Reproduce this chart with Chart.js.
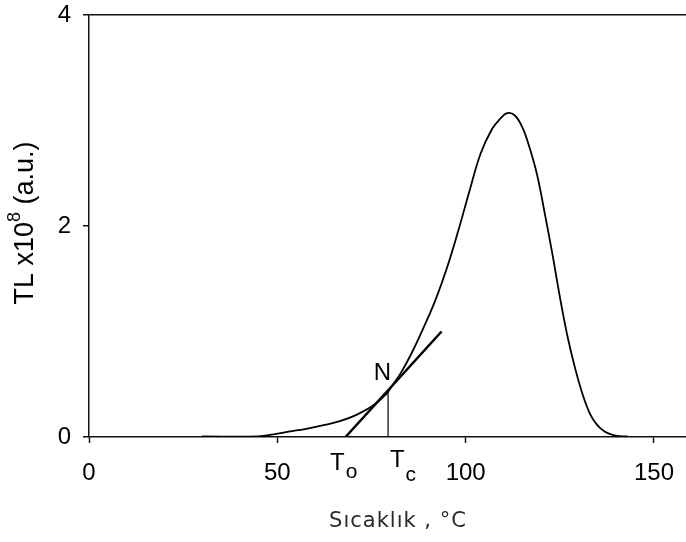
<!DOCTYPE html>
<html>
<head>
<meta charset="utf-8">
<script src="https://cdn.jsdelivr.net/npm/chart.js@4.4.1/dist/chart.umd.min.js"></script>
<style>
  html, body { margin: 0; padding: 0; background: #fff; overflow: hidden; }
  #wrap { width: 686px; height: 542px; }
</style>
</head>
<body>
<div id="wrap"><canvas id="glowChart"></canvas></div>
<script>
// glow curve
const temperature = [30, 45, 49, 53, 58, 62, 66.6, 71, 75.5, 79, 80, 83, 86, 89, 92, 95, 98, 101, 104, 107, 109, 111, 113, 115, 117, 119, 121, 123, 125, 127, 129, 131, 133, 135, 137, 139, 141, 143];
const tlSignal = [0.005, 0.005, 0.025, 0.05, 0.08, 0.11, 0.15, 0.21, 0.30, 0.41, 0.46, 0.62, 0.82, 1.05, 1.30, 1.60, 1.95, 2.33, 2.69, 2.92, 3.01, 3.07, 3.05, 2.94, 2.74, 2.48, 2.12, 1.74, 1.33, 0.96, 0.66, 0.41, 0.22, 0.11, 0.05, 0.02, 0.008, 0.005];

// tangent at N and the drop line to Tc
const tangentX = [68.1, 93.6];
const tangentY = [0, 1.0];
const tcLineX = [79.4, 79.4];
const tcLineY = [0, 0.44];

const xTicks = [0, 50, 100, 150];
const yTicks = [0, 2, 4];

const toPoints = (xs, ys) => xs.map((x, i) => ({ x: x, y: ys[i] }));

// N, To, Tc marks
const markerLabels = [
    { text: 'N', sub: '', x: 75.6, y: 0.545 },
    { text: 'T', sub: 'o', x: 64.0, y: -0.316 },
    { text: 'T', sub: 'c', x: 79.9, y: -0.287 }
];

const annotationPlugin = {
    id: 'glowAnnotations',
    afterDraw(chart) {
        const ctx = chart.ctx;
        const xs = chart.scales.x;
        const ys = chart.scales.y;
        ctx.save();
        ctx.fillStyle = '#000';
        ctx.textBaseline = 'alphabetic';
        ctx.textAlign = 'left';
        markerLabels.forEach(m => {
            const px = xs.getPixelForValue(m.x);
            const py = ys.getPixelForValue(m.y);
            ctx.font = '24px "Liberation Sans", Arial, sans-serif';
            ctx.fillText(m.text, px, py);
            if (m.sub) {
                const w = ctx.measureText(m.text).width;
                ctx.font = '21px "Liberation Sans", Arial, sans-serif';
                ctx.fillText(m.sub, px + w + 1, py + (m.sub === 'c' ? 14 : 8));
            }
        });

        // y axis title with superscript
        ctx.save();
        ctx.translate(26, 223);
        ctx.rotate(-Math.PI / 2);
        const partA = 'TL x10';
        const partB = '8';
        const partC = ' (a.u.)';
        const big = '27px "Liberation Sans", Arial, sans-serif';
        const small = '18px "Liberation Sans", Arial, sans-serif';
        ctx.font = big;
        const wA = ctx.measureText(partA).width;
        const wC = ctx.measureText(partC).width;
        ctx.font = small;
        const wB = ctx.measureText(partB).width;
        let cx = -(wA + wB + wC) / 2;
        ctx.textBaseline = 'middle';
        ctx.font = big;
        ctx.fillText(partA, cx, 0);
        cx += wA;
        ctx.font = small;
        ctx.fillText(partB, cx, -11);
        cx += wB;
        ctx.font = big;
        ctx.fillText(partC, cx, 0);
        ctx.restore();

        // x axis title
        ctx.font = '21px "DejaVu Sans", sans-serif';
        ctx.letterSpacing = '1px';
        ctx.fillStyle = '#2a2a2a';
        ctx.textAlign = 'center';
        ctx.textBaseline = 'middle';
        ctx.fillText('Sıcaklık , °C', 398, 522);
        ctx.restore();
    }
};

const tickFont = { family: '"Liberation Sans", Arial, sans-serif', size: 24 };

new Chart(document.getElementById('glowChart').getContext('2d'), {
    type: 'scatter',
    data: {
        datasets: [
            {
                data: toPoints(temperature, tlSignal),
                showLine: true,
                borderColor: '#000',
                borderWidth: 1.8,
                pointRadius: 0,
                tension: 0.4
            },
            {
                data: toPoints(tangentX, tangentY),
                showLine: true,
                borderColor: '#000',
                borderWidth: 2.5,
                pointRadius: 0
            },
            {
                data: toPoints(tcLineX, tcLineY),
                showLine: true,
                borderColor: '#000',
                borderWidth: 1.2,
                pointRadius: 0
            }
        ]
    },
    options: {
        responsive: true,
        maintainAspectRatio: false,
        animation: false,
        layout: { padding: { top: 15, left: 0, right: 0, bottom: 0 } },
        plugins: {
            legend: { display: false },
            tooltip: { enabled: false }
        },
        scales: {
            x: {
                type: 'linear',
                min: 0,
                max: 158.5,
                afterBuildTicks: scale => { scale.ticks = xTicks.map(v => ({ value: v })); },
                afterFit: scale => {
                    scale.height = 105;
                    scale.paddingLeft = 0;
                    scale.paddingRight = 0;
                },
                border: { display: true, color: '#111', width: 1.5 },
                grid: { drawOnChartArea: false, drawTicks: true, tickLength: 6, tickColor: '#111', tickWidth: 1.5 },
                ticks: { font: tickFont, color: '#000', padding: 16, maxRotation: 0 }
            },
            y: {
                min: 0,
                max: 4,
                afterBuildTicks: scale => { scale.ticks = yTicks.map(v => ({ value: v })); },
                afterFit: scale => {
                    scale.width = 89;
                    scale.paddingTop = 0;
                    scale.paddingBottom = 0;
                },
                border: { display: true, color: '#111', width: 1.5 },
                grid: {
                    drawOnChartArea: true,
                    color: c => (c.tick && c.tick.value === 4 ? '#111' : 'rgba(0,0,0,0)'),
                    lineWidth: 1.5,
                    tickLength: 6,
                    tickColor: '#111',
                    tickWidth: 1.5
                },
                ticks: { font: tickFont, color: '#000', padding: 12 }
            }
        }
    },
    plugins: [annotationPlugin]
});
</script>
</body>
</html>
